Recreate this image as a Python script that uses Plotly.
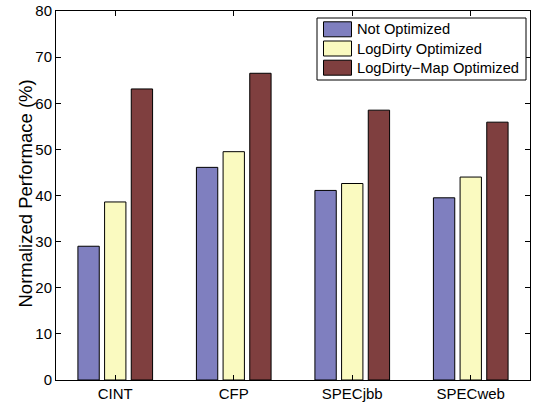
import plotly.graph_objects as go

categories = ["CINT", "CFP", "SPECjbb", "SPECweb"]
not_optimized = [29.0, 46.1, 41.1, 39.5]
logdirty_optimized = [38.6, 49.5, 42.6, 44.0]
logdirty_map_optimized = [63.1, 66.5, 58.5, 55.9]
series_names = ["Not Optimized", "LogDirty Optimized", "LogDirty\u2212Map Optimized"]
colors = ["#7f7fbf", "#fafac0", "#7f3f3f"]
y_ticks = [0, 10, 20, 30, 40, 50, 60, 70, 80]
y_title = "Normalized Performace (%)"

FONT = "Liberation Sans, Arial, Helvetica"

fig = go.Figure()
for name, vals, col in zip(series_names, [not_optimized, logdirty_optimized, logdirty_map_optimized], colors):
    fig.add_trace(go.Bar(
        x=categories, y=vals, name=name,
        marker=dict(color=col, line=dict(color="black", width=1)),
    ))

axis_common = dict(
    showline=True, linecolor="black", linewidth=1, mirror="ticks",
    ticks="inside", ticklen=5, tickcolor="black", showgrid=False, zeroline=False,
    tickfont=dict(family=FONT, size=15, color="black"), automargin=False,
)

# Custom MATLAB-style legend (box, wide swatches, labels) in paper coordinates
L, R, T, B = 56, 530, 11, 380
pw, ph = R - L, B - T
def px(x): return (x - L) / pw
def py(y): return (B - y) / ph

shapes = [dict(type="rect", xref="paper", yref="paper",
               x0=px(317), x1=px(526), y0=py(80), y1=py(18),
               line=dict(color="black", width=1), fillcolor="white", layer="above")]
annotations = []
row_centers = [29.3, 48.5, 67.7]
for name, col, yc in zip(series_names, colors, row_centers):
    shapes.append(dict(type="rect", xref="paper", yref="paper",
                       x0=px(323.5), x1=px(351.5), y0=py(yc + 7.5), y1=py(yc - 7.5),
                       line=dict(color="black", width=1), fillcolor=col, layer="above"))
    annotations.append(dict(xref="paper", yref="paper", x=px(355), y=py(yc),
                            xanchor="left", yanchor="middle", text=name, showarrow=False,
                            font=dict(family=FONT, size=14.7, color="black")))

# y-axis title as rotated annotation for exact placement
annotations.append(dict(xref="paper", yref="paper", x=px(24.5), y=py(194),
                        xanchor="center", yanchor="middle", text=y_title, textangle=-90,
                        showarrow=False, font=dict(family=FONT, size=18.5, color="black")))

fig.update_layout(
    width=541, height=405,
    margin=dict(l=L, r=541 - R, t=T, b=405 - B),
    paper_bgcolor="white", plot_bgcolor="white",
    barmode="group", bargap=0.325, bargroupgap=0.2,
    font=dict(family=FONT, size=15, color="black"),
    xaxis=dict(**axis_common),
    yaxis=dict(**axis_common, range=[0, 80], tickvals=y_ticks),
    showlegend=False,
    shapes=shapes,
    annotations=annotations,
)
fig.write_html("out.html")
